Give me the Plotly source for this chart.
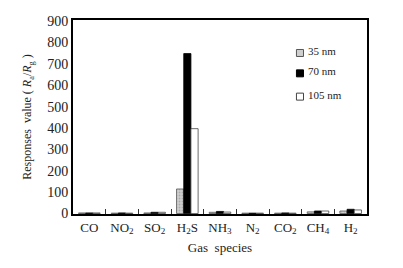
import plotly.graph_objects as go

categories = ["CO", "NO<sub>2</sub>", "SO<sub>2</sub>", "H<sub>2</sub>S", "NH<sub>3</sub>",
              "N<sub>2</sub>", "CO<sub>2</sub>", "CH<sub>4</sub>", "H<sub>2</sub>"]
v35 = [3, 2, 3, 115, 6, 2, 2, 8, 12]
v70 = [3, 3, 6, 748, 10, 2, 3, 12, 20]
v105 = [3, 2, 6, 397, 7, 2, 2, 12, 17]
y_ticks = [0, 100, 200, 300, 400, 500, 600, 700, 800, 900]
series_names = ["35 nm", "70 nm", "105 nm"]
fills = ["#cfcfcf", "black", "white"]
edges = ["#555", "black", "#444"]

font = "Liberation Serif, Times New Roman, serif"

fig = go.Figure()
for vals, name, fc, ec in zip([v35, v70, v105], series_names, fills, edges):
    marker = dict(color=fc, line=dict(color=ec, width=0.8))
    if name == "35 nm":
        marker["pattern"] = dict(shape=".", fgcolor="#888", size=3, solidity=0.3)
    fig.add_trace(go.Bar(x=categories, y=vals, name=name, marker=marker, showlegend=False))

# compact legend drawn inside the plot (small squares + labels)
leg_y = [0.83, 0.725, 0.605]
for name, fc, ec, ly in zip(series_names, fills, edges, leg_y):
    fig.add_shape(type="rect", xref="paper", yref="paper",
                  x0=0.760, x1=0.784, y0=ly - 0.018, y1=ly + 0.018,
                  fillcolor=fc, line=dict(color=ec, width=1))
    fig.add_annotation(xref="paper", yref="paper", x=0.792, y=ly + 0.01,
                       text=name, showarrow=False, xanchor="left", yanchor="middle",
                       font=dict(size=11, family=font, color="#222"))

fig.update_layout(
    width=395, height=260,
    margin=dict(l=65, r=36, t=6, b=54),
    paper_bgcolor="white", plot_bgcolor="white",
    barmode="group", bargap=0.34, bargroupgap=0,
    font=dict(family=font, color="#222", size=13),
    showlegend=False,
    xaxis=dict(showline=True, linecolor="black", linewidth=2, mirror=True,
               ticks="inside", tickson="boundaries", ticklen=5, tickcolor="#333",
               tickangle=0, tickfont=dict(size=13, family=font),
               title=dict(text="Gas  species", font=dict(size=13, family=font), standoff=8)),
    yaxis=dict(range=[-2, 905], tickvals=y_ticks, showline=True, linecolor="black",
               linewidth=2, mirror=True, showgrid=False, zeroline=False,
               ticks="", tickfont=dict(size=14, family=font),
               title=dict(text="Responses  value ( <i>R</i><sub>a</sub>/<i>R</i><sub>g</sub> )",
                          font=dict(size=12, family=font), standoff=13)),
)

fig.write_html("out.html")
